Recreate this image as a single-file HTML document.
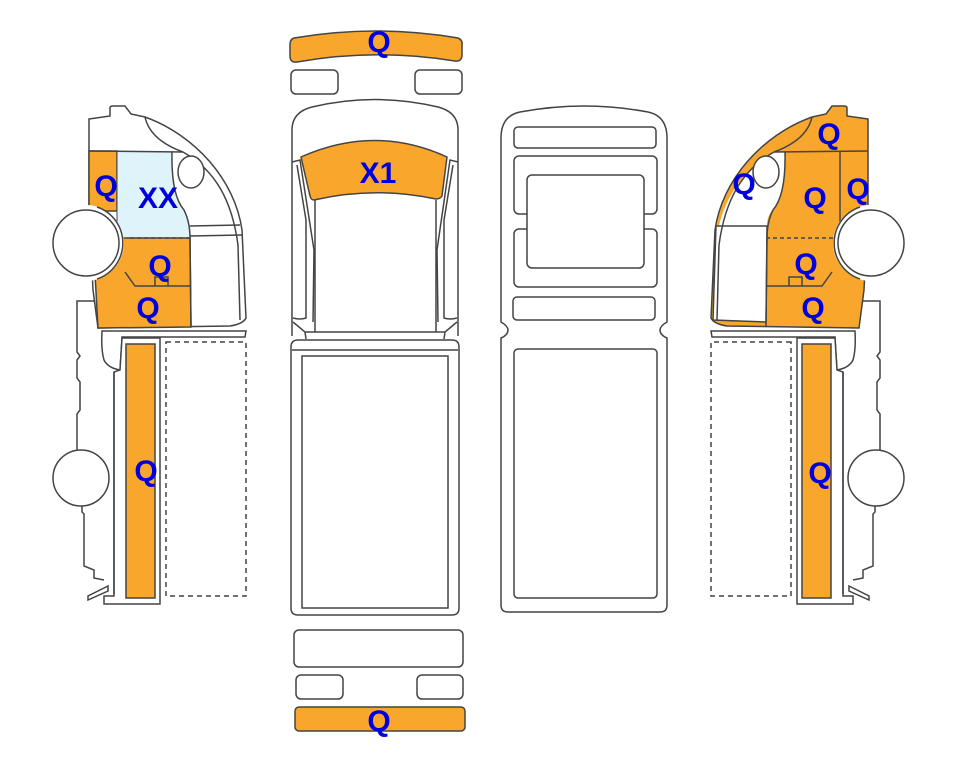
<!DOCTYPE html>
<html><head><meta charset="utf-8"><style>
html,body{margin:0;padding:0;background:#fff;width:963px;height:768px;overflow:hidden}
svg{display:block}
text{font-family:"Liberation Sans",Arial,sans-serif;font-weight:bold;fill:#0000dd;text-anchor:middle}
</style></head><body>
<svg width="963" height="768" viewBox="0 0 963 768" xmlns="http://www.w3.org/2000/svg">
<defs>
<g id="body" stroke="#444" stroke-width="1.5" fill="#fff">
  <path d="M96,301 L77,301 L77,352 L80,356 L77,360 L77,378 L80,382 L80,410 L77,414 L77,457 M82,500 L82,512 L84,514 L84,566 L94,570 L94,578 L104,580"/>
  <circle cx="81" cy="478" r="28"/>
  <path d="M108,586 L88,596 L88,600 L108,591 Z"/>
  <path d="M102,331 L246,331 L245,337 L122,337 L122,338 L120,370 Q108,368 104,360 Q101,350 102,331 Z"/>
  <path d="M122,338 L160,338 L160,604 L104,604 L104,596 L114,596 L114,372 L120,370 Z"/>
  <path d="M114,372 L114,594"/>
  <rect x="126" y="344" width="29" height="254" fill="#f9a72c"/>
  <rect x="166" y="342" width="80" height="254" fill="none" stroke-dasharray="5,4"/>
</g>
</defs>

<!-- LEFT SIDE VIEW -->
<use href="#body"/>
<g stroke="#444" stroke-width="1.5">
  <path d="M89,119 L110,116 L110,108 Q110,106 113,106 L125,106 L131,114 L145,117 C195,135 235,180 242,230 L246,318 Q243,324 230,326 L98,328 L93,290 L89,208 Z" fill="#fff"/>
  <rect x="89" y="151" width="28" height="60" fill="#f9a72c"/>
  <path d="M117,151 L172,152 Q171,195 184,210 Q190,222 190,238 L117,238 Z" fill="#dff3fb" stroke="none"/>
  <path d="M93,238 L190,238 L191,327 L98,328 Z" fill="#f9a72c"/>
  <path d="M89,151 L183,152" fill="none"/>
  <path d="M117,151 L117,238" fill="none" stroke-width="1"/>
  <path d="M172,152 Q171,195 184,210 Q190,222 190,238 L191,327" fill="none"/>
  <path d="M130,238 L190,238" fill="none" stroke-dasharray="4,3"/>
  <path d="M145,117 Q150,140 183,152" fill="none"/>
  <path d="M183,152 C215,170 232,200 238,245 L240,320" fill="none"/>
  <path d="M190,226 L240,225 M190,236 L242,235" fill="none"/>
  <ellipse cx="191" cy="172" rx="13" ry="16" fill="#fff"/>
  <path d="M125,272 L135,286 L190,286 M155,286 L155,277 L168,277 L168,286" fill="none"/>
  <circle cx="86" cy="243" r="38" fill="#fff" stroke="none"/>
  <path d="M97,207 A38,38 0 0 1 97,279" fill="none"/>
  <circle cx="86" cy="243" r="33" fill="#fff"/>
</g>

<!-- RIGHT SIDE VIEW (mirrored) -->
<g transform="translate(957,0) scale(-1,1)">
  <use href="#body"/>
  <g stroke="#444" stroke-width="1.5">
    <path d="M89,119 L110,116 L110,108 Q110,106 113,106 L125,106 L131,114 L145,117 C195,135 235,180 242,230 L246,318 Q243,324 230,326 L98,328 L93,290 L89,208 Z" fill="#f9a72c"/>
    <path d="M172,152 L183,152 C215,170 232,200 238,226 L190,226 Q190,215 184,210 Q171,195 172,152 Z" fill="#fff" stroke="none"/>
    <path d="M190,226 L241,226 L244,320 L191,322 Z" fill="#fff"/>
    <path d="M89,151 L183,152" fill="none"/>
    <path d="M117,151 L117,238" fill="none"/>
    <path d="M172,152 Q171,195 184,210 Q190,222 190,238 L191,327" fill="none"/>
    <path d="M117,238 L190,238" fill="none" stroke-dasharray="4,3"/>
    <path d="M145,117 Q150,140 183,152" fill="none"/>
    <path d="M183,152 C215,170 232,200 238,245 L240,320" fill="none"/>
    <ellipse cx="191" cy="172" rx="13" ry="16" fill="#fff"/>
    <path d="M125,272 L135,286 L190,286 M155,286 L155,277 L168,277 L168,286" fill="none"/>
    <circle cx="86" cy="243" r="38" fill="#fff" stroke="none"/>
    <path d="M97,207 A38,38 0 0 1 97,279" fill="none"/>
    <circle cx="86" cy="243" r="33" fill="#fff"/>
  </g>
</g>

<!-- CENTER FRONT TOP VIEW -->
<g stroke="#444" stroke-width="1.5" fill="#fff">
  <path d="M294,38 Q376,24 458,38 Q463,40 462,46 L462,56 Q461,62 455,61 Q376,48 297,62 Q290,63 290,56 L290,45 Q290,39 294,38 Z" fill="#f9a72c"/>
  <rect x="291" y="70" width="47" height="24" rx="5"/>
  <rect x="415" y="70" width="47" height="24" rx="5"/>
  <path d="M292,336 L292,130 Q292,112 312,107 Q375,92 438,107 Q458,112 458,130 L458,336"/>
  <path d="M301,157 Q375,124 447,157 L442,196 Q440,199 436,199 Q375,186 314,200 Q311,200 310,196 Z" fill="#f9a72c"/>
  <path d="M292,162 L300,160 L314,250 L313,322 M458,162 L450,160 L437,250 L438,322" fill="none"/>
  <path d="M297,165 L306,220 L306,318 Q300,320 293,318 M453,165 L444,220 L444,318 Q450,320 457,318" fill="none"/>
  <path d="M315,200 L315,332 M436,200 L436,332 M305,332 L445,332 M293,322 L305,332 L306,339 M457,322 L445,332 L444,339" fill="none"/>
  <path d="M298,340 L452,340 Q459,340 459,347 L459,608 Q459,615 452,615 L298,615 Q291,615 291,608 L291,347 Q291,340 298,340 Z"/>
  <path d="M292,350 L458,350" fill="none"/>
  <rect x="302" y="356" width="146" height="252"/>
  <rect x="294" y="630" width="169" height="37" rx="5"/>
  <rect x="296" y="675" width="47" height="24" rx="5"/>
  <rect x="417" y="675" width="46" height="24" rx="5"/>
  <rect x="295" y="707" width="170" height="24" rx="4" fill="#f9a72c"/>
</g>

<!-- REAR TOP VIEW -->
<g stroke="#444" stroke-width="1.5" fill="#fff">
  <path d="M501,322 L501,138 Q501,116 520,112 Q584,100 648,112 Q667,116 667,138 L667,322 Q660,326 660,330 Q660,335 667,338 L667,605 Q667,612 660,612 L508,612 Q501,612 501,605 L501,338 Q508,335 508,330 Q508,326 501,322 Z"/>
  <rect x="514" y="127" width="142" height="21" rx="4"/>
  <rect x="514" y="156" width="143" height="58" rx="5"/>
  <rect x="514" y="229" width="143" height="58" rx="5"/>
  <rect x="527" y="175" width="117" height="93" rx="5"/>
  <rect x="513" y="297" width="142" height="23" rx="4"/>
  <rect x="514" y="349" width="143" height="249" rx="4"/>
</g>

<!-- LABELS -->
<g font-size="30">
  <text x="379" y="52">Q</text>
  <text x="378" y="183">X1</text>
  <text x="379" y="731">Q</text>
  <text x="106" y="196">Q</text>
  <text x="158" y="208">XX</text>
  <text x="160" y="276">Q</text>
  <text x="148" y="318">Q</text>
  <text x="146" y="481">Q</text>
  <text x="829" y="144">Q</text>
  <text x="744" y="194">Q</text>
  <text x="815" y="208">Q</text>
  <text x="858" y="199">Q</text>
  <text x="806" y="274">Q</text>
  <text x="813" y="318">Q</text>
  <text x="820" y="483">Q</text>
</g>
</svg>
</body></html>
